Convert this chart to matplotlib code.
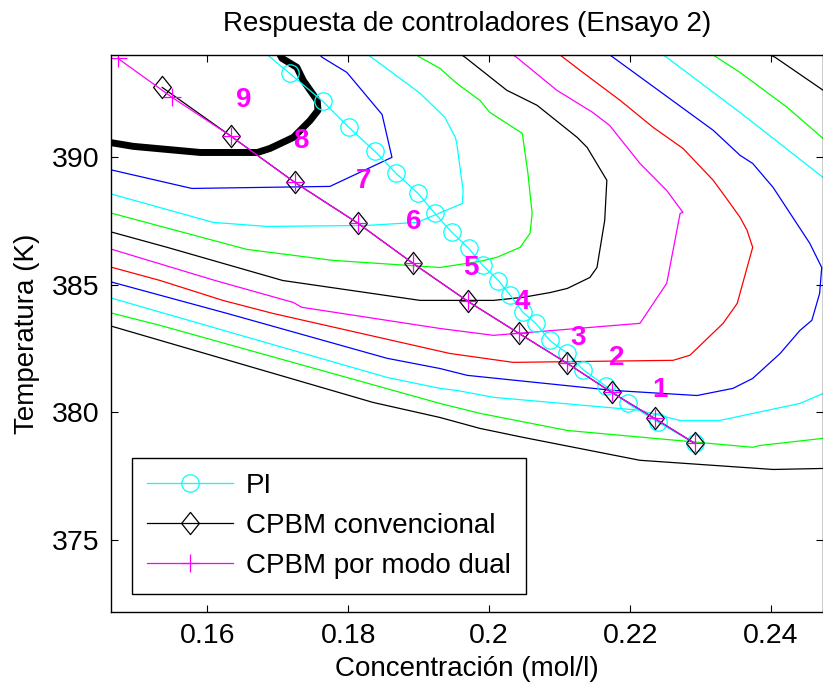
import matplotlib
matplotlib.use('Agg')
import matplotlib.pyplot as plt
from matplotlib.path import Path

plt.rcParams['font.family'] = ['Liberation Sans', 'DejaVu Sans']

# curvas de nivel (concentracion, temperatura), de la mas interna a la mas externa
level_1 = [(0.146, 389.52), (0.1578, 388.77), (0.1774, 388.85), (0.1862, 389.99), (0.1848, 391.67),
           (0.1798, 393.32), (0.1763, 393.91), (0.1753, 394.19)]
level_2 = [(0.146, 388.58), (0.1608, 387.44), (0.1685, 387.28), (0.1827, 387.32), (0.1898, 387.44),
           (0.1962, 388.18), (0.1963, 388.69), (0.1954, 390.54), (0.1952, 390.77), (0.1937, 391.56),
           (0.1902, 392.50), (0.1835, 393.87), (0.1824, 394.1)]
level_3 = [(0.146, 387.83), (0.1656, 386.38), (0.1778, 385.95), (0.1930, 385.67), (0.1987, 385.91),
           (0.2011, 386.07), (0.2044, 386.46), (0.2058, 387.01), (0.2061, 387.79), (0.2055, 389.36),
           (0.2047, 390.93), (0.2001, 391.75), (0.1987, 392.22), (0.1954, 392.89), (0.1930, 393.48),
           (0.1902, 393.91), (0.1891, 394.1)]
level_4 = [(0.146, 387.09), (0.1543, 386.46), (0.1707, 385.16), (0.1902, 384.38), (0.2006, 384.38),
           (0.2048, 384.50), (0.2087, 384.69), (0.2111, 384.85), (0.2143, 385.28), (0.2153, 385.67),
           (0.2164, 387.52), (0.2167, 389.09), (0.2139, 390.38), (0.2125, 390.77), (0.2068, 392.03),
           (0.2025, 392.62), (0.1966, 393.91), (0.1956, 394.1)]
level_5 = [(0.146, 386.42), (0.1611, 385.16), (0.1722, 384.30), (0.1734, 384.11), (0.1930, 383.28),
           (0.2006, 383.01), (0.2214, 383.48), (0.2252, 385.05), (0.2271, 387.79), (0.2275, 387.83),
           (0.2252, 388.69), (0.2214, 389.75), (0.2171, 391.24), (0.2147, 391.75), (0.2096, 392.62),
           (0.2039, 393.91), (0.2029, 394.1)]
level_6 = [(0.146, 385.71), (0.1533, 385.16), (0.1622, 384.38), (0.1693, 383.87), (0.1944, 382.30),
           (0.2034, 381.95), (0.2261, 382.03), (0.2285, 382.23), (0.2332, 383.48), (0.2352, 384.26),
           (0.2374, 386.46), (0.2366, 387.13), (0.2356, 387.64), (0.2342, 388.18), (0.2318, 389.09),
           (0.2275, 390.34), (0.2233, 391.16), (0.2186, 392.22), (0.2129, 393.40), (0.2105, 393.91),
           (0.2096, 394.1)]
level_7 = [(0.146, 385.13), (0.1628, 383.87), (0.1855, 382.11), (0.1930, 381.71), (0.1969, 381.44),
           (0.2176, 380.85), (0.2295, 380.65), (0.2346, 380.93), (0.2374, 381.32), (0.2413, 382.30),
           (0.2441, 383.20), (0.2458, 383.60), (0.2469, 384.65), (0.2472, 385.67), (0.2455, 386.62),
           (0.2403, 388.81), (0.2374, 389.75), (0.2356, 390.07), (0.2318, 391.05), (0.2176, 393.91),
           (0.2166, 394.1)]
level_8 = [(0.146, 384.50), (0.1855, 381.36), (0.1930, 380.93), (0.1954, 380.85), (0.2006, 380.58),
           (0.2214, 380.07), (0.2271, 379.67), (0.2327, 379.67), (0.2441, 380.34), (0.2474, 380.73),
           (0.2512, 382.03), (0.2512, 387.91), (0.2474, 389.20), (0.2356, 391.75), (0.2252, 393.91),
           (0.2242, 394.1)]
level_9 = [(0.146, 383.91), (0.1533, 383.40), (0.1930, 380.34), (0.1987, 379.95), (0.2111, 379.28),
           (0.2374, 378.62), (0.2384, 378.69), (0.2474, 378.97), (0.2512, 380.0), (0.2512, 389.0),
           (0.2474, 390.73), (0.2423, 391.95), (0.2356, 393.32), (0.2323, 393.91), (0.2313, 394.1)]
level_10 = [(0.146, 383.40), (0.1835, 380.38), (0.1930, 379.79), (0.1987, 379.36), (0.2048, 379.01),
            (0.2214, 378.11), (0.2403, 377.75), (0.2474, 377.79), (0.2512, 378.5), (0.2512, 391.5),
            (0.2474, 392.62), (0.2406, 393.91), (0.2392, 394.1)]
# colores puros estilo matlab: b, c, g, k, m, r
level_colors = ['#0000ff', '#00ffff', '#00ff00', '#000000', '#ff00ff', '#ff0000',
                '#0000ff', '#00ffff', '#00ff00', '#000000']

# curva gruesa (restriccion)
thick_level = [(0.146, 390.58), (0.1495, 390.42), (0.1590, 390.18), (0.1671, 390.18), (0.1689, 390.34),
               (0.1722, 390.77), (0.1746, 391.44), (0.1757, 391.83), (0.1756, 392.22), (0.1736, 393.01),
               (0.1727, 393.52), (0.1706, 393.87), (0.1700, 394.18)]

# trayectorias de los controladores
pi_conc = [0.2292, 0.2240, 0.2197, 0.2166, 0.2133, 0.2111, 0.2086, 0.2066, 0.2048, 0.2030, 0.2013,
           0.1991, 0.1971, 0.1947, 0.1923, 0.1899, 0.1868, 0.1838, 0.1801, 0.1764, 0.1717, 0.1668]
pi_temp = [378.77, 379.60, 380.34, 381.01, 381.67, 382.30, 382.81, 383.48, 383.91, 384.58, 385.16,
           385.75, 386.42, 387.05, 387.79, 388.58, 389.36, 390.22, 391.16, 392.18, 393.28, 394.4]

cpbm_conc = [0.2292, 0.2235, 0.2174, 0.2111, 0.2042, 0.1970, 0.1892, 0.1814, 0.1724, 0.1634, 0.1536]
cpbm_temp = [378.77, 379.75, 380.77, 381.91, 383.09, 384.34, 385.83, 387.40, 389.01, 390.81, 392.73]

dual_conc = [0.2292, 0.2235, 0.2174, 0.2111, 0.2042, 0.1970, 0.1892, 0.1814, 0.1724, 0.1634, 0.1550, 0.1473]
dual_temp = [378.77, 379.75, 380.77, 381.91, 383.09, 384.34, 385.83, 387.40, 389.01, 390.81, 392.34, 393.87]

# numeros de paso
step_text = ['1', '2', '3', '4', '5', '6', '7', '8', '9']
step_conc = [0.2242, 0.2181, 0.2126, 0.2047, 0.1974, 0.1893, 0.1821, 0.1733, 0.1651]
step_temp = [380.85, 382.11, 382.89, 384.30, 385.64, 387.44, 389.05, 390.62, 392.22]

# marcador de rombo (un poco mas alto que ancho)
diamond = Path([(0, 1), (0.8, 0), (0, -1), (-0.8, 0), (0, 1)],
               [Path.MOVETO, Path.LINETO, Path.LINETO, Path.LINETO, Path.CLOSEPOLY])

fig = plt.figure(figsize=(8.23, 6.9), dpi=100)
ax = fig.add_axes([0.1349, 0.1130, 0.8645, 0.8072])

for level, col in zip([level_1, level_2, level_3, level_4, level_5, level_6, level_7, level_8, level_9, level_10],
                      level_colors):
    ax.plot([p[0] for p in level], [p[1] for p in level], color=col, lw=0.9)

ax.plot([p[0] for p in thick_level], [p[1] for p in thick_level], color='k', lw=5, solid_capstyle='butt')

ax.plot(pi_conc, pi_temp, color='#00ffff', lw=0.9, marker='o', ms=12.5, mfc='none', mec='#00ffff', mew=0.9,
        label='PI')
ax.plot(cpbm_conc, cpbm_temp, color='k', lw=0.9, marker=diamond, ms=16, mfc='none', mec='k', mew=0.9,
        label='CPBM convencional')
ax.plot(dual_conc, dual_temp, color='#ff00ff', lw=0.9, marker='+', ms=13, mec='#ff00ff', mew=0.9,
        label='CPBM por modo dual')

for t, cx, ty in zip(step_text, step_conc, step_temp):
    ax.text(cx, ty, t, color='#ff00ff', fontsize=20, fontweight='bold', ha='center', va='center')

ax.set_xlim(0.14633, 0.24731)
ax.set_ylim(372.16, 394.0)
ax.set_xticks([0.16, 0.18, 0.2, 0.22, 0.24])
ax.set_xticklabels(['0.16', '0.18', '0.2', '0.22', '0.24'])
ax.set_yticks([375, 380, 385, 390])
ax.tick_params(direction='in', length=5, width=0.8, top=True, right=True, labelsize=20.5, pad=8)
for sp in ax.spines.values():
    sp.set_linewidth(1.0)

ax.set_title('Respuesta de controladores (Ensayo 2)', fontsize=20, pad=17)
ax.set_xlabel('Concentración (mol/l)', fontsize=20, labelpad=5)
ax.set_ylabel('Temperatura (K)', fontsize=20, labelpad=9)

leg = ax.legend(loc='lower left', bbox_to_anchor=(0.0295, 0.032), borderaxespad=0, fontsize=20,
                fancybox=False, edgecolor='k', framealpha=1, handlelength=3.1, handletextpad=0.45,
                labelspacing=0.5, borderpad=0.55)
leg.get_frame().set_linewidth(1.0)

fig.savefig('out.png', dpi=100)
